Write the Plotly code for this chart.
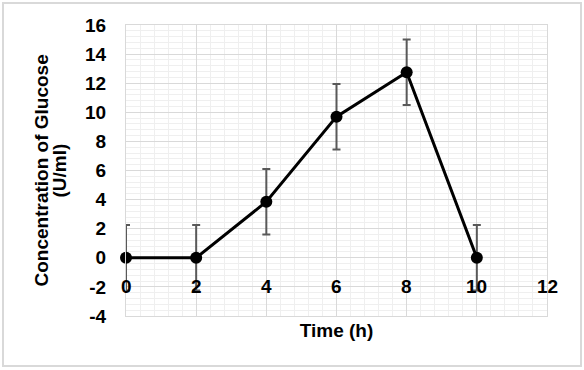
import plotly.graph_objects as go

time_h = [0, 2, 4, 6, 8, 10]
glucose = [0, 0, 3.85, 9.7, 12.75, 0]
glucose_err = [2.25, 2.25, 2.25, 2.25, 2.25, 2.25]
x_ticks = [0, 2, 4, 6, 8, 10, 12]
y_ticks = [-4, -2, 0, 2, 4, 6, 8, 10, 12, 14, 16]
x_title = "Time (h)"
y_title_lines = ["Concentration of Glucose", "(U/ml)"]

FONT = "Liberation Sans, Arial, sans-serif"
FS = 19

fig = go.Figure()
fig.add_trace(go.Scatter(
    x=time_h, y=glucose, mode="lines+markers",
    line=dict(color="black", width=3),
    marker=dict(color="black", size=12),
    error_y=dict(type="data", array=glucose_err, visible=True,
                 color="#595959", thickness=2, width=4),
    cliponaxis=False, showlegend=False,
))

for t in x_ticks:
    fig.add_annotation(x=t, y=-2, xref="x", yref="y", text=f"<b>{t}</b>",
                       showarrow=False, xanchor="center", yanchor="middle",
                       font=dict(family=FONT, size=FS, color="black"))

for i, (line, shift) in enumerate(zip(y_title_lines, [-85, -67])):
    fig.add_annotation(x=0, y=0.5, xref="paper", yref="paper", text=f"<b>{line}</b>",
                       textangle=-90, showarrow=False, xanchor="center", yanchor="middle",
                       xshift=shift,
                       font=dict(family=FONT, size=FS, color="black"))

fig.add_shape(type="rect", xref="paper", yref="paper",
              xsizemode="pixel", ysizemode="pixel", xanchor=0, yanchor=0,
              x0=-123, x1=455, y0=-50, y1=313,
              line=dict(color="#d9d9d9", width=2), fillcolor="rgba(0,0,0,0)", layer="below")

fig.update_xaxes(range=[0, 12], tickvals=x_ticks, showticklabels=False,
                 showgrid=True, gridcolor="#d9d9d9", gridwidth=1,
                 minor=dict(dtick=0.4, tick0=0, showgrid=True, gridcolor="#efefef", gridwidth=1),
                 zeroline=False, showline=True, mirror=True, linecolor="#d9d9d9", linewidth=1,
                 title=dict(text=f"<b>{x_title}</b>", standoff=7,
                            font=dict(family=FONT, size=FS, color="black")))
fig.update_yaxes(range=[-4, 16], tickvals=y_ticks, ticktext=[f"<b>{v}</b>" for v in y_ticks],
                 showgrid=True, gridcolor="#d9d9d9", gridwidth=1,
                 minor=dict(dtick=0.4, tick0=0, showgrid=True, gridcolor="#efefef", gridwidth=1),
                 zeroline=False, showline=True, mirror=True, linecolor="#d9d9d9", linewidth=1,
                 ticks="outside", ticklen=15, tickcolor="rgba(0,0,0,0)",
                 tickfont=dict(family=FONT, size=FS, color="black"))

fig.update_layout(width=584, height=370, autosize=False,
                  margin=dict(l=126, r=37, t=25, b=54),
                  paper_bgcolor="white", plot_bgcolor="white",
                  font=dict(family=FONT, color="black"))

fig.write_html("out.html", config={"displayModeBar": False},
               post_script="document.body.style.margin='0';document.body.style.padding='0';")
